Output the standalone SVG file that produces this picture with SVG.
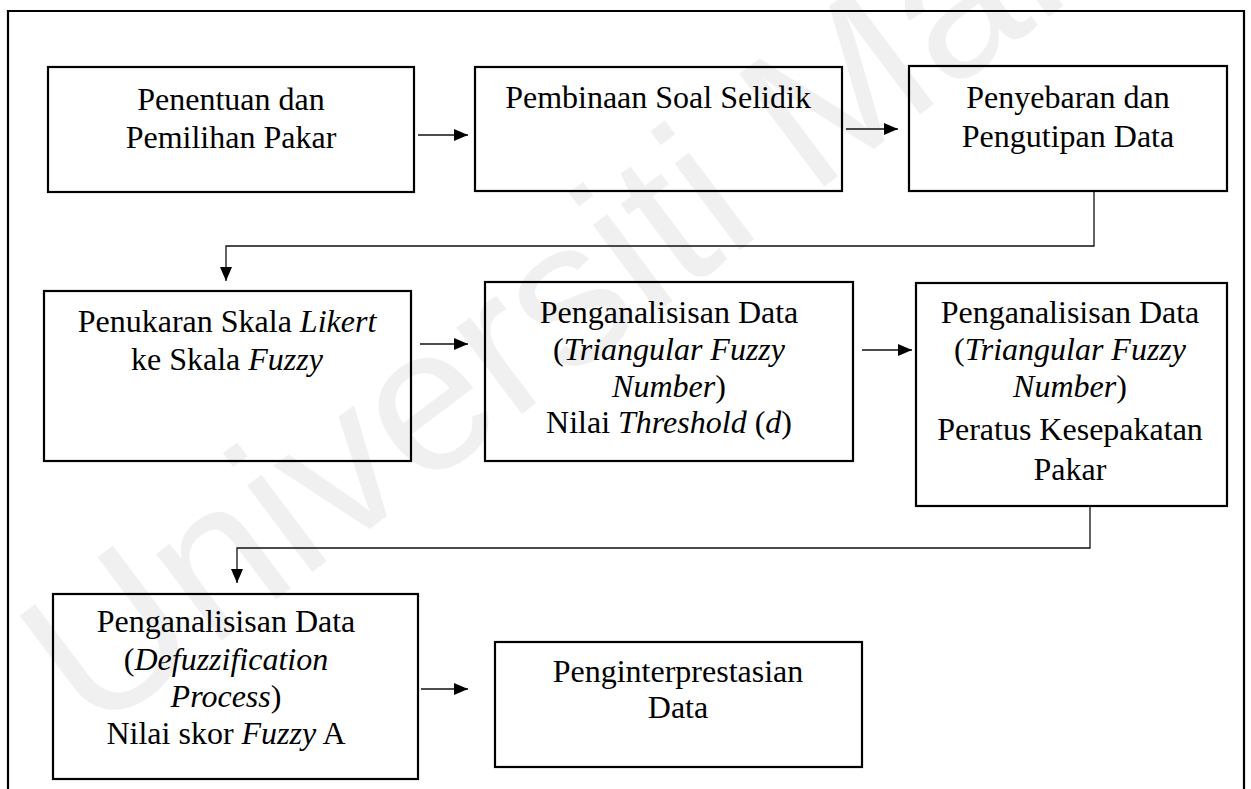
<svg xmlns="http://www.w3.org/2000/svg" width="1251" height="789" viewBox="0 0 1251 789">
<defs>
<style>
.box{fill:none;stroke:#000;stroke-width:2.2}
.t{font-family:"Liberation Serif","Times New Roman",serif;font-size:32px;fill:#000;text-anchor:middle}
.i{font-style:italic}
.c{fill:none;stroke:#111;stroke-width:1.3}
.wm{font-family:"Liberation Sans",Arial,sans-serif;font-size:205px;fill:#f0f0f0}
</style>
<marker id="ah" markerWidth="14" markerHeight="12" refX="14" refY="6" orient="auto" markerUnits="userSpaceOnUse">
<path d="M0,0 L14,6 L0,12 z" fill="#000"/>
</marker>
</defs>
<rect x="0" y="0" width="1251" height="789" fill="#fff"/>
<text class="wm" transform="translate(92,738) rotate(-37)">Universiti Malaya</text>
<path d="M8,789 L8,11 L1244,11 L1244,789" fill="none" stroke="#000" stroke-width="2.2"/>
<g id="connectors">
<path class="c" d="M418,135 L468,135" marker-end="url(#ah)"/>
<path class="c" d="M846,129 L898,129" marker-end="url(#ah)"/>
<path class="c" d="M1094,192 L1094,246 L226,246 L226,281" marker-end="url(#ah)"/>
<path class="c" d="M420,344 L468,344" marker-end="url(#ah)"/>
<path class="c" d="M862,350 L912,350" marker-end="url(#ah)"/>
<path class="c" d="M1090,506 L1090,548 L237,548 L237,583" marker-end="url(#ah)"/>
<path class="c" d="M421,689 L468,689" marker-end="url(#ah)"/>
</g>
<g id="n1">
<rect class="box" x="48" y="67" width="366" height="125"/>
<text class="t" x="231" y="110">Penentuan dan</text>
<text class="t" x="231" y="148">Pemilihan Pakar</text>
</g>
<g id="n2">
<rect class="box" x="475" y="67" width="367" height="124"/>
<text class="t" x="658" y="108">Pembinaan Soal Selidik</text>
</g>
<g id="n3">
<rect class="box" x="909" y="66" width="318" height="125"/>
<text class="t" x="1068" y="108">Penyebaran dan</text>
<text class="t" x="1068" y="147">Pengutipan Data</text>
</g>
<g id="n4">
<rect class="box" x="44" y="291" width="367" height="170"/>
<text class="t" x="227" y="332">Penukaran Skala <tspan class="i">Likert</tspan></text>
<text class="t" x="227" y="370">ke Skala <tspan class="i">Fuzzy</tspan></text>
</g>
<g id="n5">
<rect class="box" x="485" y="282" width="368" height="179"/>
<text class="t" x="669" y="323">Penganalisisan Data</text>
<text class="t" x="669" y="360">(<tspan class="i">Triangular Fuzzy</tspan></text>
<text class="t" x="669" y="397"><tspan class="i">Number</tspan>)</text>
<text class="t" x="669" y="433">Nilai <tspan class="i">Threshold</tspan> (<tspan class="i">d</tspan>)</text>
</g>
<g id="n6">
<rect class="box" x="916" y="283" width="311" height="223"/>
<text class="t" x="1070" y="323">Penganalisisan Data</text>
<text class="t" x="1070" y="360">(<tspan class="i">Triangular Fuzzy</tspan></text>
<text class="t" x="1070" y="397"><tspan class="i">Number</tspan>)</text>
<text class="t" x="1070" y="440">Peratus Kesepakatan</text>
<text class="t" x="1070" y="480">Pakar</text>
</g>
<g id="n7">
<rect class="box" x="53" y="594" width="365" height="185"/>
<text class="t" x="226" y="632">Penganalisisan Data</text>
<text class="t" x="226" y="670">(<tspan class="i">Defuzzification</tspan></text>
<text class="t" x="226" y="707"><tspan class="i">Process</tspan>)</text>
<text class="t" x="226" y="744">Nilai skor <tspan class="i">Fuzzy</tspan> A</text>
</g>
<g id="n8">
<rect class="box" x="495" y="642" width="367" height="125"/>
<text class="t" x="678" y="682">Penginterprestasian</text>
<text class="t" x="678" y="718">Data</text>
</g>
</svg>
